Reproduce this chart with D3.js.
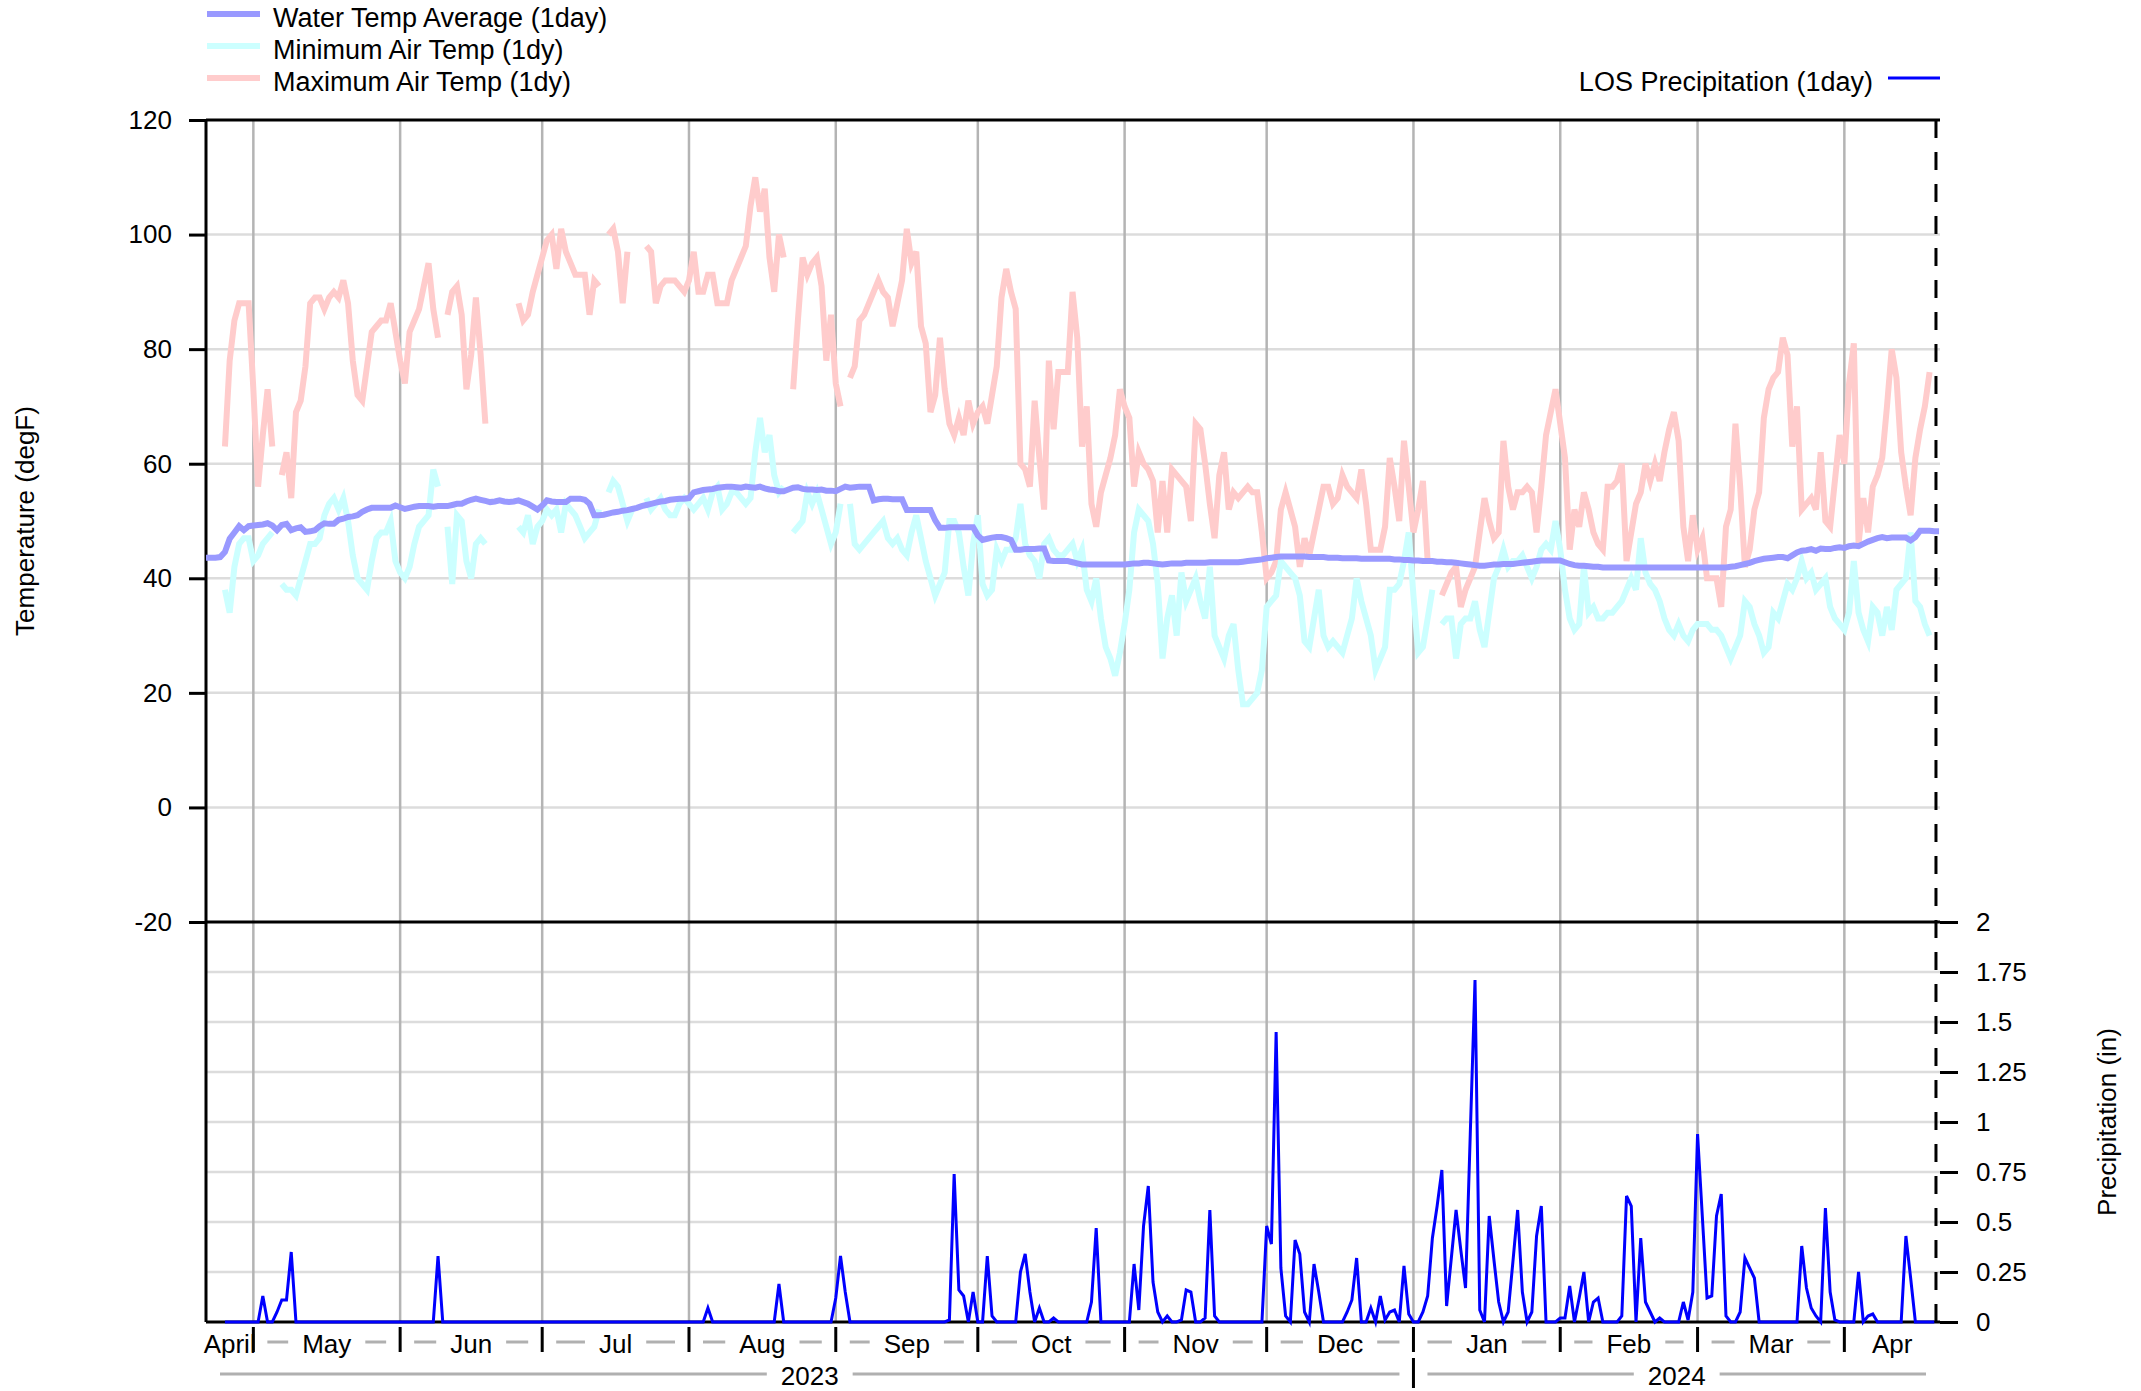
<!DOCTYPE html>
<html>
<head>
<meta charset="utf-8">
<title>Water Temp / Air Temp / Precipitation</title>
<script src="https://d3js.org/d3.v7.min.js"></script>
<style>
  body { margin: 0; background: #fff; }
  text { font-family: "Liberation Sans", Arial, sans-serif; font-size: 26px; fill: #000; }
  .legend text { font-size: 27px; }
</style>
</head>
<body>
<script>
// ---------- data (daily, starting 2023-04-21, null = no reading) ----------
var firstDay = Date.UTC(2023, 3, 21);

var waterTemp = [
  43.6, 43.6, 43.6, 43.7, 44.6, 46.9, 48.0, 49.1, 48.4, 49.1,
  49.2, 49.3, 49.4, 49.6, 49.2, 48.4, 49.3, 49.5, 48.4, 48.7,
  48.9, 48.1, 48.2, 48.4, 49.1, 49.6, 49.5, 49.5, 50.2, 50.4,
  50.7, 50.8, 51.0, 51.6, 52.0, 52.3, 52.3, 52.3, 52.3, 52.3,
  52.7, 52.4, 52.1, 52.3, 52.5, 52.6, 52.6, 52.6, 52.5, 52.6,
  52.6, 52.6, 52.8, 53.0, 53.0, 53.4, 53.7, 53.9, 53.7, 53.5,
  53.3, 53.4, 53.6, 53.4, 53.3, 53.4, 53.6, 53.3, 53.0, 52.5,
  52.0, 52.7, 53.6, 53.4, 53.3, 53.3, 53.3, 53.9, 53.9, 53.9,
  53.7, 53.0, 51.0, 51.0, 51.1, 51.3, 51.5, 51.6, 51.8, 51.9,
  52.1, 52.3, 52.6, 52.8, 53.0, 53.2, 53.4, 53.5, 53.7, 53.8,
  53.9, 53.9, 54.0, 55.0, 55.2, 55.4, 55.5, 55.6, 55.8, 55.9,
  56.0, 56.0, 55.9, 55.8, 56.0, 55.9, 55.8, 56.0, 55.7, 55.5,
  55.4, 55.2, 55.2, 55.5, 55.8, 55.9, 55.6, 55.5, 55.5, 55.4,
  55.5, 55.3, 55.3, 55.2, 55.6, 56.0, 55.8, 55.9, 56.0, 56.0,
  56.0, 53.6, 53.8, 53.9, 53.9, 53.8, 53.8, 53.8, 51.9, 51.9,
  51.9, 51.9, 51.9, 51.9, 50.1, 48.8, 48.8, 48.9, 48.9, 48.9,
  48.9, 48.9, 48.9, 47.5, 46.7, 46.9, 47.1, 47.2, 47.2, 47.0,
  46.7, 45.0, 45.0, 45.1, 45.1, 45.1, 45.2, 45.2, 43.1, 43.0,
  43.0, 43.0, 43.0, 42.8, 42.6, 42.4, 42.4, 42.4, 42.4, 42.4,
  42.4, 42.4, 42.4, 42.4, 42.4, 42.5, 42.6, 42.6, 42.7, 42.7,
  42.6, 42.5, 42.4, 42.5, 42.6, 42.6, 42.6, 42.7, 42.7, 42.7,
  42.7, 42.7, 42.8, 42.8, 42.8, 42.8, 42.8, 42.8, 42.8, 42.9,
  43.0, 43.1, 43.2, 43.3, 43.5, 43.6, 43.7, 43.8, 43.8, 43.8,
  43.8, 43.8, 43.8, 43.7, 43.7, 43.7, 43.7, 43.6, 43.6, 43.6,
  43.5, 43.5, 43.5, 43.5, 43.4, 43.4, 43.4, 43.4, 43.4, 43.4,
  43.4, 43.3, 43.3, 43.2, 43.2, 43.1, 43.1, 43.0, 43.0, 43.0,
  42.9, 42.9, 42.8, 42.8, 42.7, 42.6, 42.5, 42.4, 42.3, 42.2,
  42.2, 42.3, 42.4, 42.4, 42.5, 42.5, 42.5, 42.6, 42.7, 42.8,
  42.9, 43.0, 43.1, 43.1, 43.1, 43.1, 43.1, 42.8, 42.5, 42.3,
  42.2, 42.2, 42.1, 42.0, 42.0, 41.9, 41.9, 41.9, 41.9, 41.9,
  41.9, 41.9, 41.9, 41.9, 41.9, 41.9, 41.9, 41.9, 41.9, 41.9,
  41.9, 41.9, 41.9, 41.9, 41.9, 41.9, 41.9, 41.9, 41.9, 41.9,
  41.9, 41.9, 42.0, 42.1, 42.3, 42.5, 42.7, 43.0, 43.2, 43.4,
  43.5, 43.6, 43.7, 43.7, 43.5, 44.0, 44.5, 44.8, 44.9, 45.1,
  44.8, 45.2, 45.1, 45.1, 45.3, 45.4, 45.3, 45.6, 45.7, 45.6,
  46.0, 46.4, 46.7, 47.0, 47.2, 47.0, 47.1, 47.1, 47.1, 47.1,
  46.6, 47.2, 48.3, 48.3, 48.3, 48.2, 48.2
];

var minAirTemp = [
  null, null, null, null, 38, 34, 42, 46, 47, 47,
  43, 44, 46, 47, 48, null, 39, 38, 38, 37,
  40, 43, 46, 46, 47, 51, 53, 54, 52, 54,
  50, 44, 40, 39, 38, 43, 47, 48, 48, 50,
  43, 41, 40, 42, 46, 49, 50, 51, 59, 56,
  null, 49, 39, 51, 50, 43, 40, 46, 47, 46,
  null, null, null, null, null, null, 49, 48, 51, 46,
  49, 50, 52, 51, 52, 48, 53, 52, 51, 49,
  47, 48, 49, 52, null, 55, 57, 56, 53, 50,
  52, null, null, 54, 52, 53, 54, 52, 51, 51,
  53, 54, 53, 52, 53, 54, 52, 55, 56, 52,
  53, 55, 55, 54, 53, 54, 62, 68, 62, 65,
  58, 55, 56, null, 48, 49, 50, 55, 53, 55,
  52, 49, 46, 48, 53, null, 53, 46, 45, 46,
  47, 48, 49, 50, 47, 46, 47, 45, 44, 48,
  51, 47, 43, 40, 37, 39, 41, 50, 50, 48,
  42, 37, 46, 51, 39, 37, 38, 45, 43, 45,
  45, 47, 53, 46, 44, 43, 40, 46, 47, 45,
  44, 44, 45, 46, 43, 45, 38, 36, 40, 33,
  28, 26, 23, 27, 32, 38, 48, 52, 51, 50,
  46, 39, 26, 33, 37, 30, 41, 36, 38, 40,
  36, 33, 42, 30, 28, 26, 30, 32, 24, 18,
  18, 19, 20, 24, 35, 36, 37, 43, 42, 41,
  40, 37, 29, 28, 33, 38, 30, 28, 29, 28,
  27, 30, 33, 40, 36, 33, 30, 24, 26, 28,
  38, 38, 39, 43, 48, 37, 27, 28, 33, 38,
  null, 32, 33, 33, 26, 32, 33, 33, 36, 31,
  28, 34, 40, 42, 45, 42, 43, 43, 44, 42,
  40, 42, 45, 46, 45, 50, 45, 38, 33, 31,
  32, 42, 34, 35, 33, 33, 34, 34, 35, 36,
  38, 40, 38, 47, 41, 39, 38, 36, 33, 31,
  30, 32, 30, 29, 31, 32, 32, 32, 31, 31,
  30, 28, 26, 28, 30, 36, 35, 32, 30, 27,
  28, 34, 33, 36, 39, 38, 40, 43, 40, 41,
  38, 39, 40, 35, 33, 32, 31, 34, 43, 34,
  31, 29, 35, 34, 30, 35, 31, 38, 39, 40,
  48, 36, 35, 32, 30, null, null
];

var maxAirTemp = [
  null, null, null, null, 63, 78, 85, 88, 88, 88,
  73, 56, 65, 73, 63, null, 58, 62, 54, 69,
  71, 77, 88, 89, 89, 87, 89, 90, 89, 92,
  88, 78, 72, 71, 77, 83, 84, 85, 85, 88,
  83, 78, 74, 83, 85, 87, 91, 95, 87, 82,
  null, 86, 90, 91, 86, 73, 79, 89, 79, 67,
  null, null, null, null, null, null, 88, 85, 86, 90,
  93, 96, 99, 100, 94, 101, 97, 95, 93, 93,
  93, 86, 92, 91, null, 100, 101, 97, 88, 97,
  null, null, null, 98, 97, 88, 91, 92, 92, 92,
  91, 90, 92, 97, 90, 90, 93, 93, 88, 88,
  88, 92, 94, 96, 98, 105, 110, 104, 108, 96,
  90, 100, 96, null, 73, 85, 96, 93, 95, 96,
  91, 78, 86, 74, 70, null, 75, 77, 85, 86,
  88, 90, 92, 90, 89, 84, 88, 92, 101, 95,
  97, 84, 81, 69, 72, 82, 73, 67, 65, 68,
  65, 71, 67, 69, 70, 67, 72, 77, 89, 94,
  90, 87, 60, 59, 56, 71, 61, 52, 78, 66,
  76, 76, 76, 90, 82, 63, 70, 53, 49, 55,
  58, 61, 65, 73, 70, 68, 56, 62, 60, 59,
  57, 48, 57, 48, 59, 58, 57, 56, 50, 67,
  66, 60, 53, 47, 58, 62, 52, 55, 54, 55,
  56, 55, 55, 48, 40, 41, 43, 52, 55, 52,
  49, 42, 47, 44, 48, 52, 56, 56, 53, 54,
  58, 56, 55, 54, 59, 53, 45, 45, 45, 49,
  61, 56, 50, 64, 56, 48, 52, 57, 43, null,
  null, 37, 39, 41, 42, 35, 38, 40, 42, 48,
  54, 50, 47, 48, 64, 56, 52, 55, 55, 56,
  55, 48, 56, 65, 69, 73, 67, 61, 45, 52,
  49, 55, 52, 48, 46, 45, 56, 56, 57, 60,
  43, 48, 53, 55, 60, 57, 60, 57, 62, 66,
  69, 64, 49, 43, 51, 45, 47, 40, 40, 40,
  35, 49, 52, 67, 56, 42, 45, 52, 55, 68,
  73, 75, 76, 82, 79, 63, 70, 52, 53, 54,
  52, 62, 50, 49, 57, 65, 60, 74, 81, 46,
  54, 48, 56, 58, 61, 70, 80, 75, 62, 56,
  51, 61, 66, 70, 76, null, null
];

var precip = [
  null, null, null, null, 0, 0, 0, 0, 0, 0,
  0, 0, 0.13, 0, 0, 0.05, 0.11, 0.11, 0.35, 0,
  0, 0, 0, 0, 0, 0, 0, 0, 0, 0,
  0, 0, 0, 0, 0, 0, 0, 0, 0, 0,
  0, 0, 0, 0, 0, 0, 0, 0, 0, 0.33,
  0, 0, 0, 0, 0, 0, 0, 0, 0, 0,
  0, 0, 0, 0, 0, 0, 0, 0, 0, 0,
  0, 0, 0, 0, 0, 0, 0, 0, 0, 0,
  0, 0, 0, 0, 0, 0, 0, 0, 0, 0,
  0, 0, 0, 0, 0, 0, 0, 0, 0, 0,
  0, 0, 0, 0, 0, 0, 0.07, 0, 0, 0,
  0, 0, 0, 0, 0, 0, 0, 0, 0, 0,
  0, 0.19, 0, 0, 0, 0, 0, 0, 0, 0,
  0, 0, 0, 0.12, 0.33, 0.15, 0, 0, 0, 0,
  0, 0, 0, 0, 0, 0, 0, 0, 0, 0,
  0, 0, 0, 0, 0, 0, 0, 0.01, 0.74, 0.16,
  0.13, 0, 0.15, 0, 0, 0.33, 0.03, 0, 0, 0,
  0, 0, 0.25, 0.34, 0.15, 0, 0.07, 0, 0, 0.02,
  0, 0, 0, 0, 0, 0, 0, 0.1, 0.47, 0,
  0, 0, 0, 0, 0, 0, 0.29, 0.06, 0.48, 0.68,
  0.2, 0.05, 0, 0.03, 0, 0, 0.01, 0.16, 0.15, 0,
  0, 0.02, 0.56, 0.03, 0, 0, 0, 0, 0, 0,
  0, 0, 0, 0, 0.48, 0.39, 1.45, 0.27, 0.03, 0,
  0.41, 0.34, 0.05, 0, 0.29, 0.15, 0, 0, 0, 0,
  0, 0.05, 0.11, 0.32, 0, 0, 0.07, 0, 0.13, 0.01,
  0.05, 0.06, 0, 0.28, 0.04, 0, 0, 0.05, 0.13, 0.42,
  0.58, 0.76, 0.08, 0.32, 0.56, 0.36, 0.17, 0.94, 1.71, 0.06,
  0, 0.53, 0.31, 0.1, 0, 0.05, 0.3, 0.56, 0.15, 0,
  0.05, 0.43, 0.58, 0, 0, 0, 0.02, 0.02, 0.18, 0,
  0.12, 0.25, 0, 0.1, 0.12, 0, 0, 0, 0, 0.03,
  0.63, 0.58, 0, 0.42, 0.1, 0.05, 0, 0.02, 0, 0,
  0, 0, 0.1, 0.01, 0.15, 0.94, 0.53, 0.12, 0.13, 0.53,
  0.64, 0.03, 0, 0, 0.05, 0.32, 0.27, 0.22, 0, 0,
  0, 0, 0, 0, 0, 0, 0, 0.38, 0.17, 0.07,
  0.03, 0, 0.57, 0.15, 0.01, 0, 0, 0, 0, 0.25,
  0, 0.03, 0.04, 0, 0, 0, 0, 0, 0, 0.43,
  0.22, 0, 0, 0, 0, 0, null
];

var monthLabels = ["April", "May", "Jun", "Jul", "Aug", "Sep", "Oct", "Nov", "Dec", "Jan", "Feb", "Mar", "Apr"];
var yearLabels = ["2023", "2024"];
var tempTicks = [120, 100, 80, 60, 40, 20, 0, -20];
var precipTicks = [2, 1.75, 1.5, 1.25, 1, 0.75, 0.5, 0.25, 0];
var legendLeft = ["Water Temp Average (1day)", "Minimum Air Temp (1dy)", "Maximum Air Temp (1dy)"];
var legendRight = "LOS Precipitation (1day)";

// ---------- layout ----------
var W = 2141, H = 1391;
var plotL = 206, plotR = 1940, plotT = 120, plotM = 922, plotB = 1322;
var colWater = "#9999ff", colMin = "#ccffff", colMax = "#ffcccc", colPrecip = "#0000ff";

var svg = d3.select("body").append("svg").attr("width", W).attr("height", H);

var dates = waterTemp.map(function(d, i) { return d3.utcDay.offset(new Date(firstDay), i); });
var domainStart = new Date(firstDay);
var domainEnd = new Date(firstDay + 366.2 * 864e5);
var lastReading = new Date(firstDay + 365.35 * 864e5);

var x = d3.scaleUtc().domain([domainStart, domainEnd]).range([plotL, plotR]);
var yT = d3.scaleLinear().domain([-20, 120]).range([plotM, plotT]);
var yP = d3.scaleLinear().domain([0, 2]).range([plotB, plotM]);

var monthStarts = d3.utcMonth.range(d3.utcMonth.ceil(domainStart), domainEnd);

// ---------- grid ----------
var grid = svg.append("g");
grid.selectAll(".hT").data(tempTicks.filter(function(t) { return t > -20 && t < 120; }))
  .enter().append("line")
  .attr("x1", plotL).attr("x2", plotR)
  .attr("y1", function(d) { return yT(d); }).attr("y2", function(d) { return yT(d); })
  .attr("stroke", "#dcdcdc").attr("stroke-width", 2.5);
grid.selectAll(".hP").data(precipTicks.filter(function(t) { return t > 0 && t < 2; }))
  .enter().append("line")
  .attr("x1", plotL).attr("x2", plotR)
  .attr("y1", function(d) { return yP(d); }).attr("y2", function(d) { return yP(d); })
  .attr("stroke", "#dcdcdc").attr("stroke-width", 2.5);
grid.selectAll(".v").data(monthStarts)
  .enter().append("line")
  .attr("x1", function(d) { return x(d); }).attr("x2", function(d) { return x(d); })
  .attr("y1", plotT).attr("y2", plotB)
  .attr("stroke", "#b4b4b4").attr("stroke-width", 2.5);

// ---------- frame ----------
var frame = svg.append("g").attr("stroke", "#000").attr("stroke-width", 3);
[plotT, plotM, plotB].forEach(function(yy) {
  frame.append("line").attr("x1", plotL).attr("x2", plotR).attr("y1", yy).attr("y2", yy);
});
frame.append("line").attr("x1", plotL).attr("x2", plotL).attr("y1", plotT).attr("y2", plotB);

// left temperature axis
var axL = d3.axisLeft(yT).tickValues(tempTicks).tickSize(17).tickPadding(17)
  .tickFormat(function(d) { return String(d); });
var gL = svg.append("g").attr("transform", "translate(" + plotL + ",0)").call(axL);
gL.select(".domain").remove();
gL.selectAll(".tick line").attr("stroke", "#000").attr("stroke-width", 3);
gL.selectAll(".tick text").style("font-size", "26px").style("font-family", "Liberation Sans, Arial, sans-serif");

// right precipitation axis
var axR = d3.axisRight(yP).tickValues(precipTicks).tickSize(18).tickPadding(18)
  .tickFormat(function(d) { return String(d); });
var gR = svg.append("g").attr("transform", "translate(" + plotR + ",0)").call(axR);
gR.select(".domain").remove();
gR.selectAll(".tick line").attr("stroke", "#000").attr("stroke-width", 3);
gR.selectAll(".tick text").style("font-size", "26px").style("font-family", "Liberation Sans, Arial, sans-serif");

// ---------- series ----------
function lineFor(values, y) {
  return d3.line()
    .defined(function(d) { return d != null; })
    .x(function(d, i) { return x(dates[i]); })
    .y(function(d) { return y(d); })(values);
}

svg.append("path").attr("d", lineFor(precip, yP))
  .attr("fill", "none").attr("stroke", colPrecip).attr("stroke-width", 3)
  .attr("stroke-linejoin", "miter");
svg.append("path").attr("d", lineFor(maxAirTemp, yT))
  .attr("fill", "none").attr("stroke", colMax).attr("stroke-width", 6)
  .attr("stroke-linejoin", "miter");
svg.append("path").attr("d", lineFor(minAirTemp, yT))
  .attr("fill", "none").attr("stroke", colMin).attr("stroke-width", 6)
  .attr("stroke-linejoin", "miter");
svg.append("path").attr("d", lineFor(waterTemp, yT))
  .attr("fill", "none").attr("stroke", colWater).attr("stroke-width", 6)
  .attr("stroke-linejoin", "miter");

// last reading marker
svg.append("line")
  .attr("x1", x(lastReading)).attr("x2", x(lastReading))
  .attr("y1", plotT).attr("y2", plotB)
  .attr("stroke", "#000").attr("stroke-width", 3).attr("stroke-dasharray", "18,14");

// ---------- time axis ----------
var gap = 14;
function labelRow(bounds, labels, yText, yDash, tickY1, tickY2) {
  var g = svg.append("g");
  labels.forEach(function(lab, i) {
    var a = x(bounds[i]), b = x(bounds[i + 1]), c = (a + b) / 2;
    var t = g.append("text").attr("x", c).attr("y", yText)
      .attr("text-anchor", "middle").attr("dy", "0.35em").text(lab);
    var w = t.node().getComputedTextLength();
    var segs = [[a + gap, c - w / 2 - gap], [c + w / 2 + gap, b - gap]];
    segs.forEach(function(s) {
      if (s[1] - s[0] > 4) {
        g.append("line").attr("x1", s[0]).attr("x2", s[1]).attr("y1", yDash).attr("y2", yDash)
          .attr("stroke", "#b0b0b0").attr("stroke-width", 3);
      }
    });
  });
  bounds.slice(1, -1).forEach(function(d) {
    g.append("line").attr("x1", x(d)).attr("x2", x(d)).attr("y1", tickY1).attr("y2", tickY2)
      .attr("stroke", "#000").attr("stroke-width", 3);
  });
}
var monthBounds = [domainStart].concat(monthStarts).concat([domainEnd]);
labelRow(monthBounds, monthLabels, 1344, 1342, 1327, 1352);
var yearBounds = [domainStart, new Date(Date.UTC(2024, 0, 1)), domainEnd];
labelRow(yearBounds, yearLabels, 1376, 1374, 1358, 1388);

// ---------- axis titles ----------
svg.append("text").attr("transform", "translate(25," + ((plotT + plotM) / 2) + ") rotate(-90)")
  .attr("text-anchor", "middle").attr("dy", "0.35em").text("Temperature (degF)");
svg.append("text").attr("transform", "translate(2107," + ((plotM + plotB) / 2) + ") rotate(-90)")
  .attr("text-anchor", "middle").attr("dy", "0.35em").text("Precipitation (in)");

// ---------- legends ----------
var legColors = [colWater, colMin, colMax];
var legG = svg.append("g").attr("class", "legend");
legendLeft.forEach(function(lab, i) {
  var yy = 18 + i * 32;
  legG.append("line").attr("x1", 207).attr("x2", 260).attr("y1", yy - 4).attr("y2", yy - 4)
    .attr("stroke", legColors[i]).attr("stroke-width", 6);
  legG.append("text").attr("x", 273).attr("y", yy).attr("dy", "0.35em").text(lab);
});
legG.append("line").attr("x1", 1888).attr("x2", plotR).attr("y1", 78).attr("y2", 78)
  .attr("stroke", colPrecip).attr("stroke-width", 3);
legG.append("text").attr("x", 1873).attr("y", 82).attr("dy", "0.35em")
  .attr("text-anchor", "end").text(legendRight);
</script>
</body>
</html>
